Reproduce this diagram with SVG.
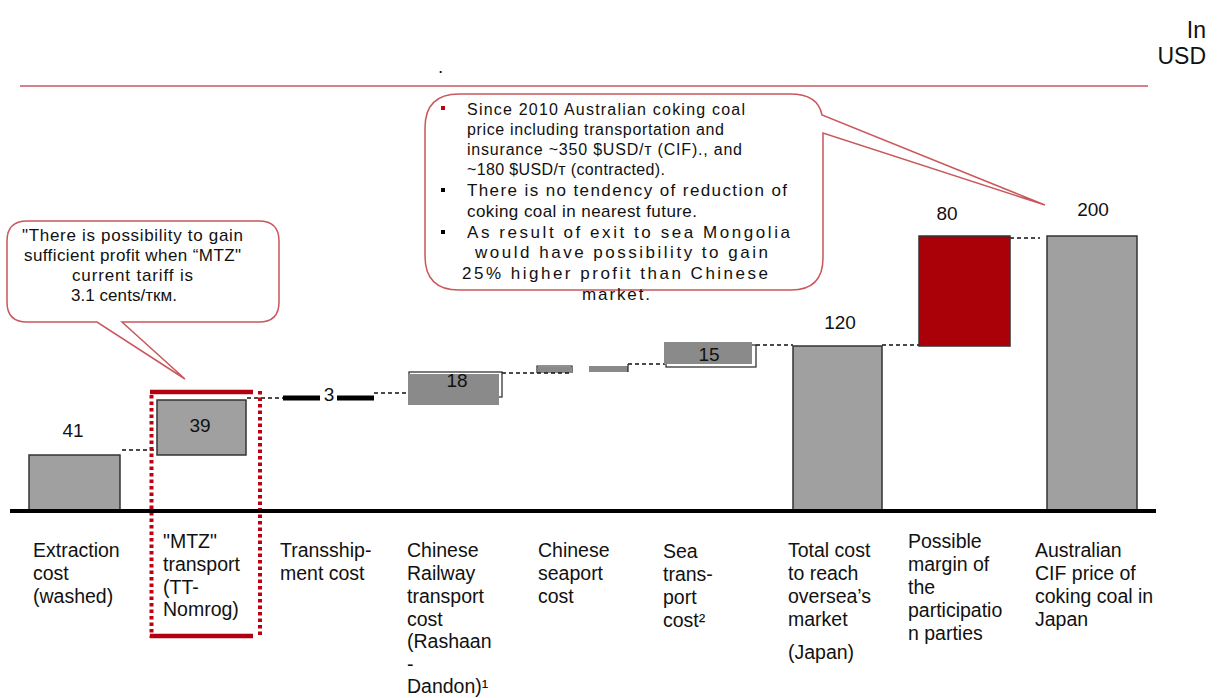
<svg xmlns="http://www.w3.org/2000/svg" width="1222" height="698" viewBox="0 0 1222 698">
<style>
text{font-family:"Liberation Sans",Arial,sans-serif;fill:#111}
.num{font-size:19px;text-anchor:middle}
.lbl{font-size:19.5px}
.co{font-size:17px}
.cb{font-size:16px}
.bar{fill:#a0a0a0;stroke:#333;stroke-width:1.5}
.sbar{fill:#8a8a8a}
.sout{fill:none;stroke:#222;stroke-width:1.2}
.dash{stroke:#111;stroke-width:1.3;stroke-dasharray:4 3;fill:none}
.callout{fill:#fff;stroke:#c9575c;stroke-width:1.5}
.dot{stroke:#c00010;stroke-width:4;stroke-dasharray:3.5 3;fill:none}
.solid{stroke:#b00010;stroke-width:4.5}
</style>
<rect width="1222" height="698" fill="#fff"/>
<g id="header">
<line x1="20" y1="86" x2="1148" y2="86" stroke="#c9575c" stroke-width="1.5"/>
<text x="438" y="73" style="font-size:19px">.</text>
<text x="1206" y="38" style="font-size:23px;text-anchor:end">In</text>
<text x="1206" y="64" style="font-size:23px;text-anchor:end">USD</text>
</g>
<g id="connectors">
<line class="dash" x1="122" y1="450" x2="158" y2="450"/>
<line class="dash" x1="247" y1="398" x2="283" y2="398"/>
<line class="dash" x1="374" y1="393" x2="410" y2="393"/>
<line class="dash" x1="502" y1="373" x2="537" y2="373"/>
<line class="dash" x1="628" y1="364" x2="665" y2="364"/>
<line class="dash" x1="756" y1="345" x2="793" y2="345"/>
<line class="dash" x1="882" y1="345" x2="919" y2="345"/>
<line class="dash" x1="1003" y1="238" x2="1040" y2="238"/>
</g>
<g id="bar-extraction">
<rect class="bar" x="29" y="455" width="91" height="57"/>
<text class="num" x="73" y="437">41</text>
</g>
<g id="bar-mtz">
<rect class="bar" x="157" y="400" width="89" height="55"/>
<text class="num" x="200" y="432">39</text>
</g>
<g id="highlight-mtz">
<line class="solid" x1="150" y1="392" x2="253" y2="392"/>
<line class="solid" x1="150" y1="636" x2="253" y2="636"/>
<line class="dot" x1="151.5" y1="395" x2="151.5" y2="638"/>
<line class="dot" x1="260" y1="391" x2="260" y2="638"/>
</g>
<g id="bar-transshipment">
<rect x="283" y="395.5" width="37" height="5" fill="#000"/>
<rect x="337" y="395.5" width="37" height="5" fill="#000"/>
<text class="num" x="329" y="401">3</text>
</g>
<g id="bar-railway">
<rect class="sout" x="409" y="372" width="93" height="25"/>
<rect class="sbar" x="408" y="374" width="91" height="31"/>
<text class="num" x="457" y="387">18</text>
</g>
<g id="bar-seaport">
<path d="M537,373 V366 H572 V373" fill="none" stroke="#222" stroke-width="1.2"/>
<rect class="sbar" x="538" y="367" width="34" height="6"/>
<line x1="537" y1="373" x2="572" y2="373" stroke="#111" stroke-width="1.3" stroke-dasharray="4 3"/>
<rect class="sbar" x="589" y="366" width="39" height="6"/>
<path d="M628,364 V372" stroke="#222" stroke-width="1.2"/>
</g>
<g id="bar-sea">
<rect class="sout" x="666" y="345" width="90" height="22"/>
<rect class="sbar" x="664" y="342" width="88" height="22"/>
<text class="num" x="709" y="361">15</text>
</g>
<g id="bar-total">
<rect class="bar" x="793" y="346" width="89" height="166"/>
<text class="num" x="840" y="329">120</text>
</g>
<g id="bar-margin">
<rect x="919" y="236" width="91" height="110" fill="#aa0008" stroke="#333" stroke-width="1.5"/>
<text class="num" x="947" y="220">80</text>
</g>
<g id="bar-cif">
<rect class="bar" x="1047" y="236" width="90" height="276"/>
<text class="num" x="1093" y="216">200</text>
</g>
<g id="axis">
<line x1="10" y1="511" x2="1156" y2="511" stroke="#000" stroke-width="4"/>
</g>
<g id="callout-tariff">
<path class="callout" d="M27,221 H259 Q279,221 279,241 V302 Q279,322 259,322 H122 L185,379 L97,322 H27 Q7,322 7,302 V241 Q7,221 27,221 Z"/>
<text class="co" x="22" y="241" textLength="221" lengthAdjust="spacing">"There is possibility to gain</text>
<text class="co" x="24" y="261" textLength="217" lengthAdjust="spacing">sufficient profit when “MTZ"</text>
<text class="co" x="72" y="281" textLength="121" lengthAdjust="spacing">current tariff is</text>
<text class="co" x="71" y="301" textLength="106" lengthAdjust="spacing">3.1 cents/ткм.</text>
</g>
<g id="callout-price">
<path class="callout" d="M459,94 H790 Q818,94 822,115 L1045,205 L823,133 V258 Q823,290 791,290 H459 Q425,290 425,256 V128 Q425,94 459,94 Z"/>
<rect x="441" y="106" width="4" height="4" fill="#c00010"/>
<rect x="441" y="188" width="4" height="4" fill="#000"/>
<rect x="441" y="230" width="4" height="4" fill="#000"/>
<text class="cb" x="467" y="115" textLength="278" lengthAdjust="spacing">Since 2010 Australian coking coal</text>
<text class="cb" x="467" y="135" textLength="257" lengthAdjust="spacing">price including transportation and</text>
<text class="cb" x="467" y="155" textLength="275" lengthAdjust="spacing">insurance ~350 $USD/т (CIF)., and</text>
<text class="cb" x="467" y="175" textLength="198" lengthAdjust="spacing">~180 $USD/т (contracted).</text>
<text class="co" x="467" y="196" textLength="320" lengthAdjust="spacing">There is no tendency of reduction of</text>
<text class="co" x="467" y="217" textLength="230" lengthAdjust="spacing">coking coal in nearest future.</text>
<text class="co" x="467" y="238" textLength="323" lengthAdjust="spacing">As result of exit to sea Mongolia</text>
<text class="co" x="475" y="258" textLength="293" lengthAdjust="spacing">would have possibility to gain</text>
<text class="co" x="462" y="279" textLength="306" lengthAdjust="spacing">25% higher profit than Chinese</text>
<text class="co" x="582" y="300" textLength="68" lengthAdjust="spacing">market.</text>
</g>
<g id="labels">
<text class="lbl" x="33" y="557">Extraction</text>
<text class="lbl" x="33" y="580">cost</text>
<text class="lbl" x="33" y="603">(washed)</text>
<text class="lbl" x="163" y="548">"MTZ"</text>
<text class="lbl" x="163" y="571">transport</text>
<text class="lbl" x="163" y="594">(TT-</text>
<text class="lbl" x="163" y="616">Nomrog)</text>
<text class="lbl" x="280" y="557">Transship-</text>
<text class="lbl" x="280" y="580">ment cost</text>
<text class="lbl" x="407" y="557">Chinese</text>
<text class="lbl" x="407" y="580">Railway</text>
<text class="lbl" x="407" y="603">transport</text>
<text class="lbl" x="407" y="626">cost</text>
<text class="lbl" x="407" y="648">(Rashaan</text>
<text class="lbl" x="407" y="671">-</text>
<text class="lbl" x="407" y="693">Dandon)¹</text>
<text class="lbl" x="538" y="557">Chinese</text>
<text class="lbl" x="538" y="580">seaport</text>
<text class="lbl" x="538" y="603">cost</text>
<text class="lbl" x="663" y="558">Sea</text>
<text class="lbl" x="663" y="581">trans-</text>
<text class="lbl" x="663" y="604">port</text>
<text class="lbl" x="663" y="627">cost²</text>
<text class="lbl" x="788" y="557">Total cost</text>
<text class="lbl" x="788" y="580">to reach</text>
<text class="lbl" x="788" y="603">oversea’s</text>
<text class="lbl" x="788" y="626">market</text>
<text class="lbl" x="788" y="659">(Japan)</text>
<text class="lbl" x="908" y="548">Possible</text>
<text class="lbl" x="908" y="571">margin of</text>
<text class="lbl" x="908" y="594">the</text>
<text class="lbl" x="908" y="617">participatio</text>
<text class="lbl" x="908" y="640">n parties</text>
<text class="lbl" x="1035" y="557">Australian</text>
<text class="lbl" x="1035" y="580">CIF price of</text>
<text class="lbl" x="1035" y="603">coking coal in</text>
<text class="lbl" x="1035" y="626">Japan</text>
</g>
</svg>
